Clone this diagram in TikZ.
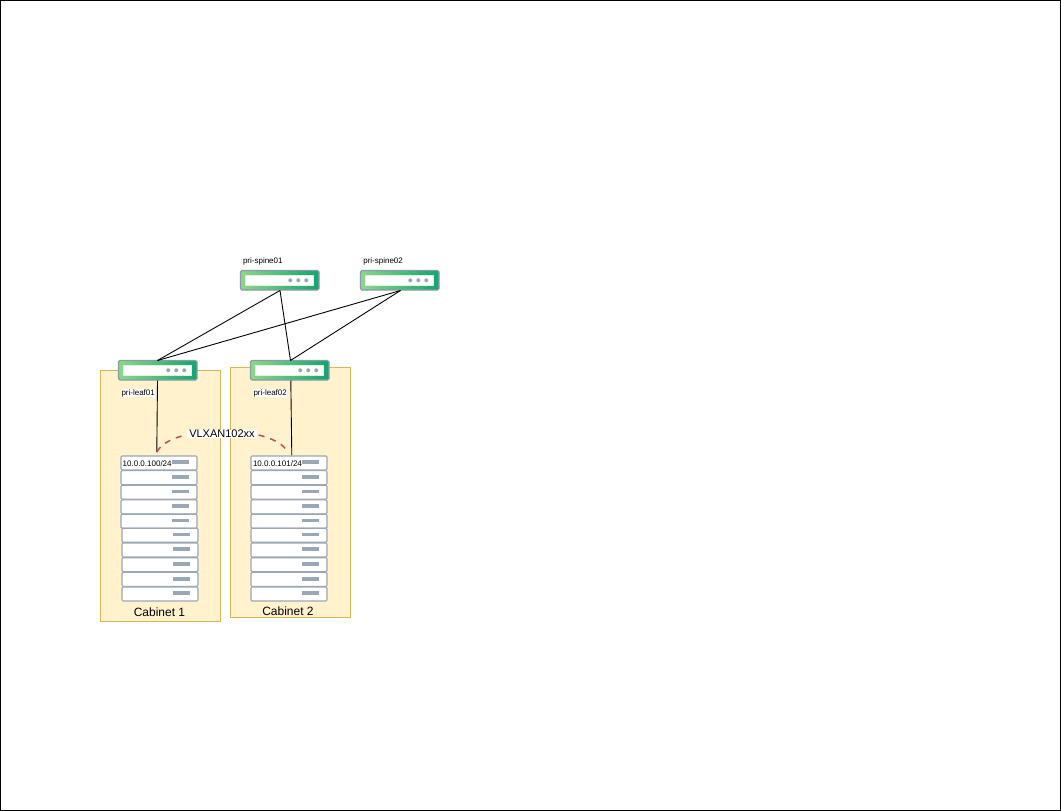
\documentclass[tikz,border=0pt]{standalone}
\usepackage{fontspec}
\setmainfont{Liberation Sans}
\definecolor{cabfill}{HTML}{FFF2CC}
\definecolor{cabline}{HTML}{D6B656}
\definecolor{grayline}{HTML}{9AA7B5}
\definecolor{swgray}{HTML}{8A9BA8}
\definecolor{swleft}{HTML}{8FD68A}
\definecolor{swright}{HTML}{10A56F}
\definecolor{arcred}{HTML}{B85450}
\tikzset{
  x=1pt,y=-1pt,
  cabinet/.style={draw=cabline,fill=cabfill,line width=0.8pt,anchor=north west,inner sep=0pt,outer sep=0pt},
  swbox/.style={draw=swgray,line width=1.2pt,rounded corners=1.5pt,left color=swleft,right color=swright,minimum width=78.5pt,minimum height=19.5pt,inner sep=0pt,outer sep=0pt,anchor=north west},
  swinner/.style={fill=white,draw=white!70!swleft,line width=0.5pt,minimum width=68pt,minimum height=10pt,inner sep=0pt},
  dotmark/.style={circle,fill=grayline,minimum size=4pt,inner sep=0pt},
  srv/.style={draw=grayline,fill=white,line width=1.1pt,rounded corners=1.2pt,minimum width=76pt,minimum height=14pt,inner sep=0pt,outer sep=0pt,anchor=north west},
  srvbar/.style={fill=grayline,minimum width=16.5pt,minimum height=3.8pt,inner sep=0pt},
  small/.style={font=\fontsize{8}{9}\selectfont,inner sep=0.5pt,text=black},
  link/.style={draw=black,line width=0.9pt},
  vlan/.style={draw=arcred,line width=1.5pt,dash pattern=on 6pt off 6pt},
}
\newcommand{\swunit}[3]{%
  \node[swbox] (#1) at (#2,#3) {};
  \node[swinner] (#1i) at ([xshift=-0.5pt]#1.center) {};
  \node[dotmark] (#1a) at ([xshift=10.5pt]#1.center) {};
  \node[dotmark] (#1b) at ([xshift=18.5pt]#1.center) {};
  \node[dotmark] (#1c) at ([xshift=26.5pt]#1.center) {};
}
\newcommand{\srvunit}[3]{%
  \node[srv] (#1) at (#2,#3) {};
  \node[srvbar] (#1b) at ([xshift=21.5pt,yshift=0.8pt]#1.center) {};
}
\begin{document}
\begin{tikzpicture}
\useasboundingbox (0,0) rectangle (1061,811);
\node[draw=black,line width=1pt,minimum width=1060pt,minimum height=810pt,inner sep=0pt,outer sep=0pt,anchor=north west] (frame) at (0.5,0.5) {};
\node[cabinet,minimum width=120.5pt,minimum height=250.5pt] (cab1) at (100.3,370.5) {};
\node[cabinet,minimum width=120pt,minimum height=250pt] (cab2) at (230.6,367.5) {};
\node[font=\fontsize{12}{13}\selectfont,inner sep=0pt] (cab1l) at (159.5,612.5) {Cabinet 1};
\node[font=\fontsize{12}{13}\selectfont,inner sep=0pt] (cab2l) at (288,611) {Cabinet 2};
\swunit{spa}{240.5}{270.5}
\swunit{spb}{360.5}{270.5}
\swunit{lfa}{118.5}{360.5}
\swunit{lfb}{250.5}{360.5}
\coordinate (spaS) at (280,290.5);
\coordinate (spbS) at (400.5,290.5);
\coordinate (lfaN) at (157.5,360.5);
\coordinate (lfbN) at (290.5,360.5);
\coordinate (lfaS) at (157.5,380.5);
\coordinate (lfbS) at (290.8,380.5);
\coordinate (endA) at (156.8,452);
\coordinate (endB) at (291.8,455);
\coordinate (arcA) at (157,452);
\coordinate (arcB) at (287.5,452);
\srvunit{a1}{121}{456}
\srvunit{a2}{121}{470.6}
\srvunit{a3}{121}{485.2}
\srvunit{a4}{121}{499.8}
\srvunit{a5}{121}{514.2}
\srvunit{a6}{122}{528.2}
\srvunit{a7}{122}{543}
\srvunit{a8}{122}{557.7}
\srvunit{a9}{122}{572.4}
\srvunit{a10}{122}{587}
\srvunit{b1}{251}{456}
\srvunit{b2}{251}{470.6}
\srvunit{b3}{251}{485.2}
\srvunit{b4}{251}{499.8}
\srvunit{b5}{251}{514.2}
\srvunit{b6}{251}{528.2}
\srvunit{b7}{251}{543}
\srvunit{b8}{251}{557.7}
\srvunit{b9}{251}{572.4}
\srvunit{b10}{251}{587}
\draw[link] (spaS) -- (lfaN);
\draw[link] (spbS) -- (lfaN);
\draw[link] (spaS) -- (lfbN);
\draw[link] (spbS) -- (lfbN);
\draw[link] (lfaS) -- (endA);
\draw[link] (lfbS) -- (endB);
\draw[vlan] (arcA) .. controls (170,424) and (274,424) .. (arcB);
\node[font=\fontsize{11}{12}\selectfont,fill=white,inner xsep=2pt,inner ysep=0.5pt] (vx) at (222,434) {VLXAN102xx};
\node[small,anchor=west] (t1) at (242.3,261.5) {pri-spine01};
\node[small,anchor=west] (t2) at (362.6,261.5) {pri-spine02};
\node[small,fill=white,anchor=west] (t3) at (120.8,393) {pri-leaf01};
\node[small,fill=white,anchor=west] (t4) at (252.8,393) {pri-leaf02};
\node[small,anchor=west] (t5) at (122,463.3) {10.0.0.100/24};
\node[small,anchor=west] (t6) at (252.3,463.3) {10.0.0.101/24};
\end{tikzpicture}
\end{document}
